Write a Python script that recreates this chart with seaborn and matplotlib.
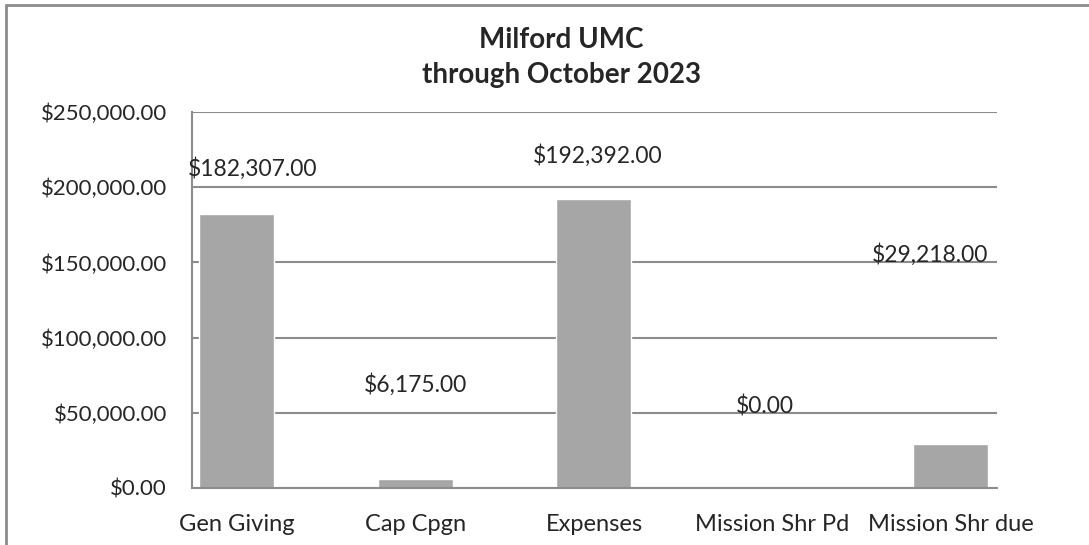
import matplotlib
matplotlib.use("Agg")
import matplotlib.pyplot as plt
import seaborn as sns
from matplotlib.lines import Line2D

# ========================================================
# Data
# ========================================================
categories = ["Gen Giving", "Cap Cpgn", "Expenses", "Mission Shr Pd", "Mission Shr due"]
amounts = [182307.00, 6175.00, 192392.00, 0.00, 29218.00]
y_ticks = [0, 50000, 100000, 150000, 200000, 250000]

# where the data labels sit (x in category units, y in dollars)
label_x = [0.09, 1.0, 2.02, 2.96, 3.88]
label_y = [212700, 68700, 221300, 54000, 155300]

BAR = "#a6a6a6"
GRID = "#8c8c8c"

sns.set_style("white")
plt.rcParams["font.family"] = ["Lato", "DejaVu Sans"]

fig = plt.figure(figsize=(10.89, 5.45), dpi=100)
ax = fig.add_axes([192 / 1089, 1 - 488 / 545, 805 / 1089, 376 / 545])

sns.barplot(x=categories, y=amounts, color=BAR, saturation=1, width=0.42, ax=ax)

ax.set_xlim(-0.252, 4.258)
ax.set_ylim(0, 250000)
ax.set_yticks(y_ticks)
ax.set_yticklabels([f"${v:,.2f}" for v in y_ticks], fontsize=16)
ax.tick_params(axis="y", length=0, pad=18)
ax.tick_params(axis="x", length=0, pad=19, labelsize=17)
ax.set_xlabel("")
ax.set_ylabel("")

ax.yaxis.grid(True, color=GRID, linewidth=1.5)
ax.set_axisbelow(True)
for side in ["top", "right"]:
    ax.spines[side].set_visible(False)
ax.spines["left"].set_color(GRID)
ax.spines["left"].set_linewidth(1.5)
ax.spines["bottom"].set_color(GRID)
ax.spines["bottom"].set_linewidth(1.5)

for x, y, v in zip(label_x, label_y, amounts):
    ax.text(x, y, f"${v:,.2f}", ha="center", va="center", fontsize=16.5)

fig.text(561 / 1089, 1 - 40 / 545, "Milford UMC", ha="center", va="center",
         fontsize=20, fontweight="bold")
fig.text(561 / 1089, 1 - 75 / 545, "through October 2023", ha="center", va="center",
         fontsize=20, fontweight="bold")

# chart frame (cropped on right and bottom)
fig.add_artist(Line2D([6 / 1089, 1], [1 - 4.5 / 545] * 2, color="#8c8c8c", linewidth=2,
                      transform=fig.transFigure))
fig.add_artist(Line2D([6 / 1089] * 2, [0, 1 - 4.5 / 545], color="#8c8c8c", linewidth=2,
                      transform=fig.transFigure))

fig.savefig("out.png", dpi=100)
